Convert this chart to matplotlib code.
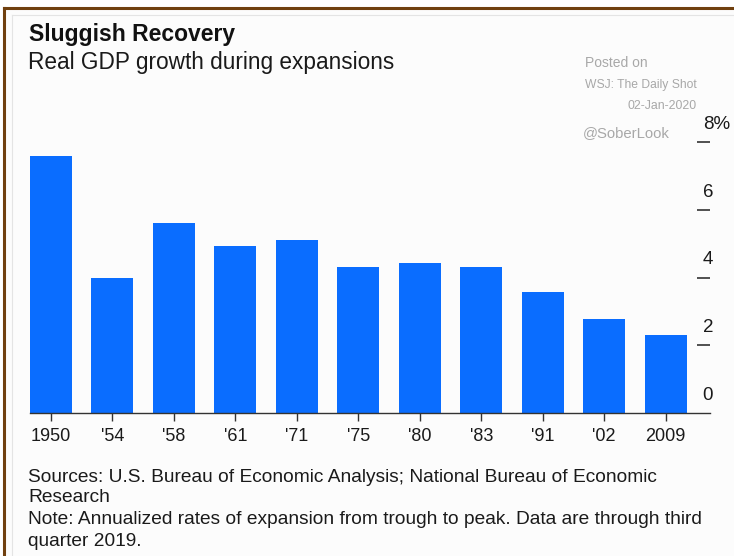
import matplotlib
matplotlib.use("Agg")
import matplotlib.pyplot as plt
from matplotlib.lines import Line2D

plt.rcParams['font.family'] = ['Liberation Sans', 'DejaVu Sans']

categories = ["1950", "'54", "'58", "'61", "'71", "'75", "'80", "'83", "'91", "'02", "2009"]
growth = [7.6, 4.0, 5.6, 4.93, 5.1, 4.3, 4.42, 4.3, 3.58, 2.78, 2.29]
y_ticks = [0, 2, 4, 6, 8]
y_tick_labels = ["0", "2", "4", "6", "8%"]

W, H = 734, 556
fig = plt.figure(figsize=(W / 100, H / 100), dpi=100)
fig.patch.set_facecolor('white')

def fx(px):
    return px / W

def fy(py):
    return 1 - py / H

# inner panel background
fig.add_artist(plt.Rectangle((fx(4), 0), 1 - fx(4), fy(8), transform=fig.transFigure,
                             facecolor='#fcfcfc', edgecolor='none', zorder=0))
# brown frame (left and top)
fig.add_artist(Line2D([fx(3.5), fx(3.5)], [0, fy(8)], transform=fig.transFigure,
                      color='#70400f', lw=2.2))
fig.add_artist(Line2D([fx(3.5), 1], [fy(8), fy(8)], transform=fig.transFigure,
                      color='#70400f', lw=2.2))
# thin grey inner frame
fig.add_artist(Line2D([fx(12), fx(12)], [0, fy(15)], transform=fig.transFigure,
                      color='#e4e4e4', lw=0.8))
fig.add_artist(Line2D([fx(12), 1], [fy(15), fy(15)], transform=fig.transFigure,
                      color='#e4e4e4', lw=0.8))

# axes: x from 30 to 710 px, y from 142.3 (8) to 412.7 (0)
left, right, top, bottom = 30, 710, 142.3, 412.7
ax = fig.add_axes([fx(left), fy(bottom), fx(right - left), (bottom - top) / H])
ax.set_facecolor('none')

x = list(range(len(categories)))
ax.bar(x, growth, width=0.68, color='#0a6dff', zorder=2)
ax.set_xlim(-0.34, 10.72)
ax.set_ylim(0, 8)

for s in ['top', 'right', 'left']:
    ax.spines[s].set_visible(False)
ax.spines['bottom'].set_color('#333333')
ax.spines['bottom'].set_linewidth(1.0)

ax.set_xticks(x)
ax.set_xticklabels(categories, fontsize=13, color='#1a1a1a')
ax.tick_params(axis='x', length=6, width=1.0, color='#333333', pad=5)

ax.set_yticks([])
# right side y ticks: short dashes with labels above
for v, lab in zip(y_ticks, y_tick_labels):
    if v > 0:
        ax.plot([10.51, 10.72], [v, v], color='#333333', lw=1.2, clip_on=False,
                solid_capstyle='butt')
    ax.annotate(lab, xy=(10.51, v), xycoords='data', xytext=(4.0, 12.6),
                textcoords='offset points', fontsize=13.5, color='#1a1a1a',
                ha='left', va='center', annotation_clip=False)

# titles
fig.text(fx(29), fy(34), "Sluggish Recovery", fontsize=16.5, fontweight='bold',
         color='#111111', ha='left', va='center')
fig.text(fx(28), fy(62), "Real GDP growth during expansions", fontsize=16.3,
         color='#1a1a1a', ha='left', va='center')

# watermark
wm = '#a8a8a8'
fig.text(fx(585), fy(63), "Posted on", fontsize=10, color=wm, ha='left', va='center')
fig.text(fx(585), fy(85), "WSJ: The Daily Shot", fontsize=8.7, color=wm, ha='left', va='center')
fig.text(fx(697), fy(106), "02-Jan-2020", fontsize=8.9, color=wm, ha='right', va='center')
fig.text(fx(583), fy(133), "@SoberLook", fontsize=10.7, color=wm, ha='left', va='center')

# footer
foot = '#1a1a1a'
fs = 13.8
fig.text(fx(28), fy(478), "Sources: U.S. Bureau of Economic Analysis; National Bureau of Economic",
         fontsize=fs, color=foot, ha='left', va='center')
fig.text(fx(28), fy(498), "Research", fontsize=fs, color=foot, ha='left', va='center')
fig.text(fx(28), fy(520), "Note: Annualized rates of expansion from trough to peak. Data are through third",
         fontsize=fs, color=foot, ha='left', va='center')
fig.text(fx(28), fy(541), "quarter 2019.", fontsize=fs, color=foot, ha='left', va='center')

fig.savefig("out.png", dpi=100, facecolor=fig.get_facecolor())
